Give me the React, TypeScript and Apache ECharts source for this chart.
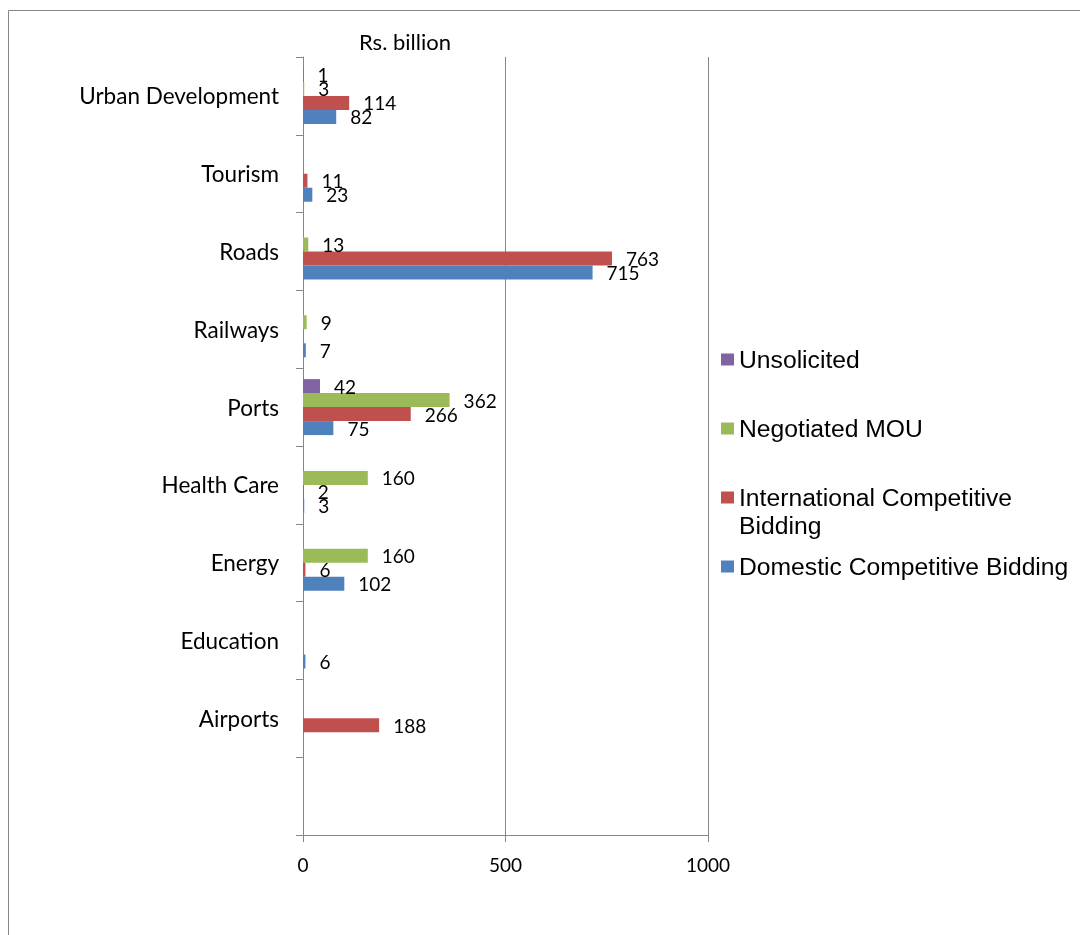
import React, { useEffect, useRef } from 'react';
import * as echarts from 'echarts';

const categories = ['', 'Airports', 'Education', 'Energy', 'Health Care', 'Ports', 'Railways', 'Roads', 'Tourism', 'Urban Development'];
const seriesNames = ['Unsolicited', 'Negotiated MOU', 'International Competitive Bidding', 'Domestic Competitive Bidding'];
const unsolicited = [null, null, null, null, null, 42, null, null, null, 1];
const negotiatedMOU = [null, null, null, 160, 160, 362, 9, 13, null, 3];
const internationalCB = [null, 188, null, 6, 2, 266, null, 763, 11, 114];
const domesticCB = [null, null, 6, 102, 3, 75, 7, 715, 23, 82];
const xTicks = [0, 500, 1000];
const colors = ['#8064A2', '#9BBB59', '#C0504D', '#4F81BD'];

const FONT = 'Lato';
const LEGEND_FONT = 'Liberation Sans';

export default function App() {
  const ref = useRef<HTMLDivElement>(null);
  useEffect(() => {
    if (!ref.current) return;
    const chart = echarts.init(ref.current, null, { renderer: 'svg' });
    const data = [unsolicited, negotiatedMOU, internationalCB, domesticCB];
    chart.setOption({
      animation: false,
      color: colors,
      textStyle: { fontFamily: FONT },
      title: {
        text: 'Rs. billion',
        left: 359,
        top: 30,
        padding: 0,
        textStyle: { fontFamily: FONT, fontSize: 22, fontWeight: 'normal', color: '#000' },
      },
      legend: {
        orient: 'vertical',
        left: 721,
        top: 347,
        padding: 0,
        itemWidth: 13,
        itemHeight: 12,
        itemGap: 44,
        icon: 'rect',
        data: seriesNames,
        formatter: (name: string) => (name === 'International Competitive Bidding' ? 'International Competitive' : name),
        textStyle: { fontFamily: LEGEND_FONT, fontSize: 24.7, lineHeight: 24, color: '#000' },
      },
      graphic: [
        {
          type: 'rect',
          shape: { x: 8.5, y: 10.5, width: 1200, height: 1000 },
          style: { fill: 'none', stroke: '#868686', lineWidth: 1 },
          silent: true,
        },
        {
          type: 'text',
          x: 739,
          y: 525,
          style: { text: 'Bidding', fontFamily: LEGEND_FONT, fontSize: 24.7, fill: '#000', verticalAlign: 'middle' },
          silent: true,
        },
      ],
      grid: { left: 303, right: 372, top: 57, bottom: 100, containLabel: false },
      xAxis: {
        type: 'value',
        min: xTicks[0],
        max: xTicks[xTicks.length - 1],
        interval: xTicks[1] - xTicks[0],
        axisLine: { show: true, lineStyle: { color: '#868686', width: 1 } },
        axisTick: { show: true, length: 7, lineStyle: { color: '#868686' } },
        splitLine: { show: true, lineStyle: { color: '#868686', width: 1 } },
        axisLabel: { fontFamily: FONT, fontSize: 19, color: '#000', margin: 20, formatter: (v: number) => String(v) },
      },
      yAxis: {
        type: 'category',
        data: categories,
        axisLine: { show: true, lineStyle: { color: '#868686', width: 1 } },
        axisTick: { show: true, length: 7, lineStyle: { color: '#868686' } },
        axisLabel: { fontFamily: FONT, fontSize: 22.5, color: '#000', margin: 24 },
        splitLine: { show: false },
      },
      series: seriesNames.map((name, i) => ({
        name,
        type: 'bar',
        data: data[i],
        barWidth: 14,
        barGap: '0%',
        label: {
          show: true,
          position: 'right',
          distance: 14,
          fontFamily: FONT,
          fontSize: 19,
          color: '#000',
        },
      })),
    });
    return () => chart.dispose();
  }, []);
  return <div ref={ref} style={{ position: 'fixed', left: 0, top: 0, width: 1080, height: 935 }} />;
}
